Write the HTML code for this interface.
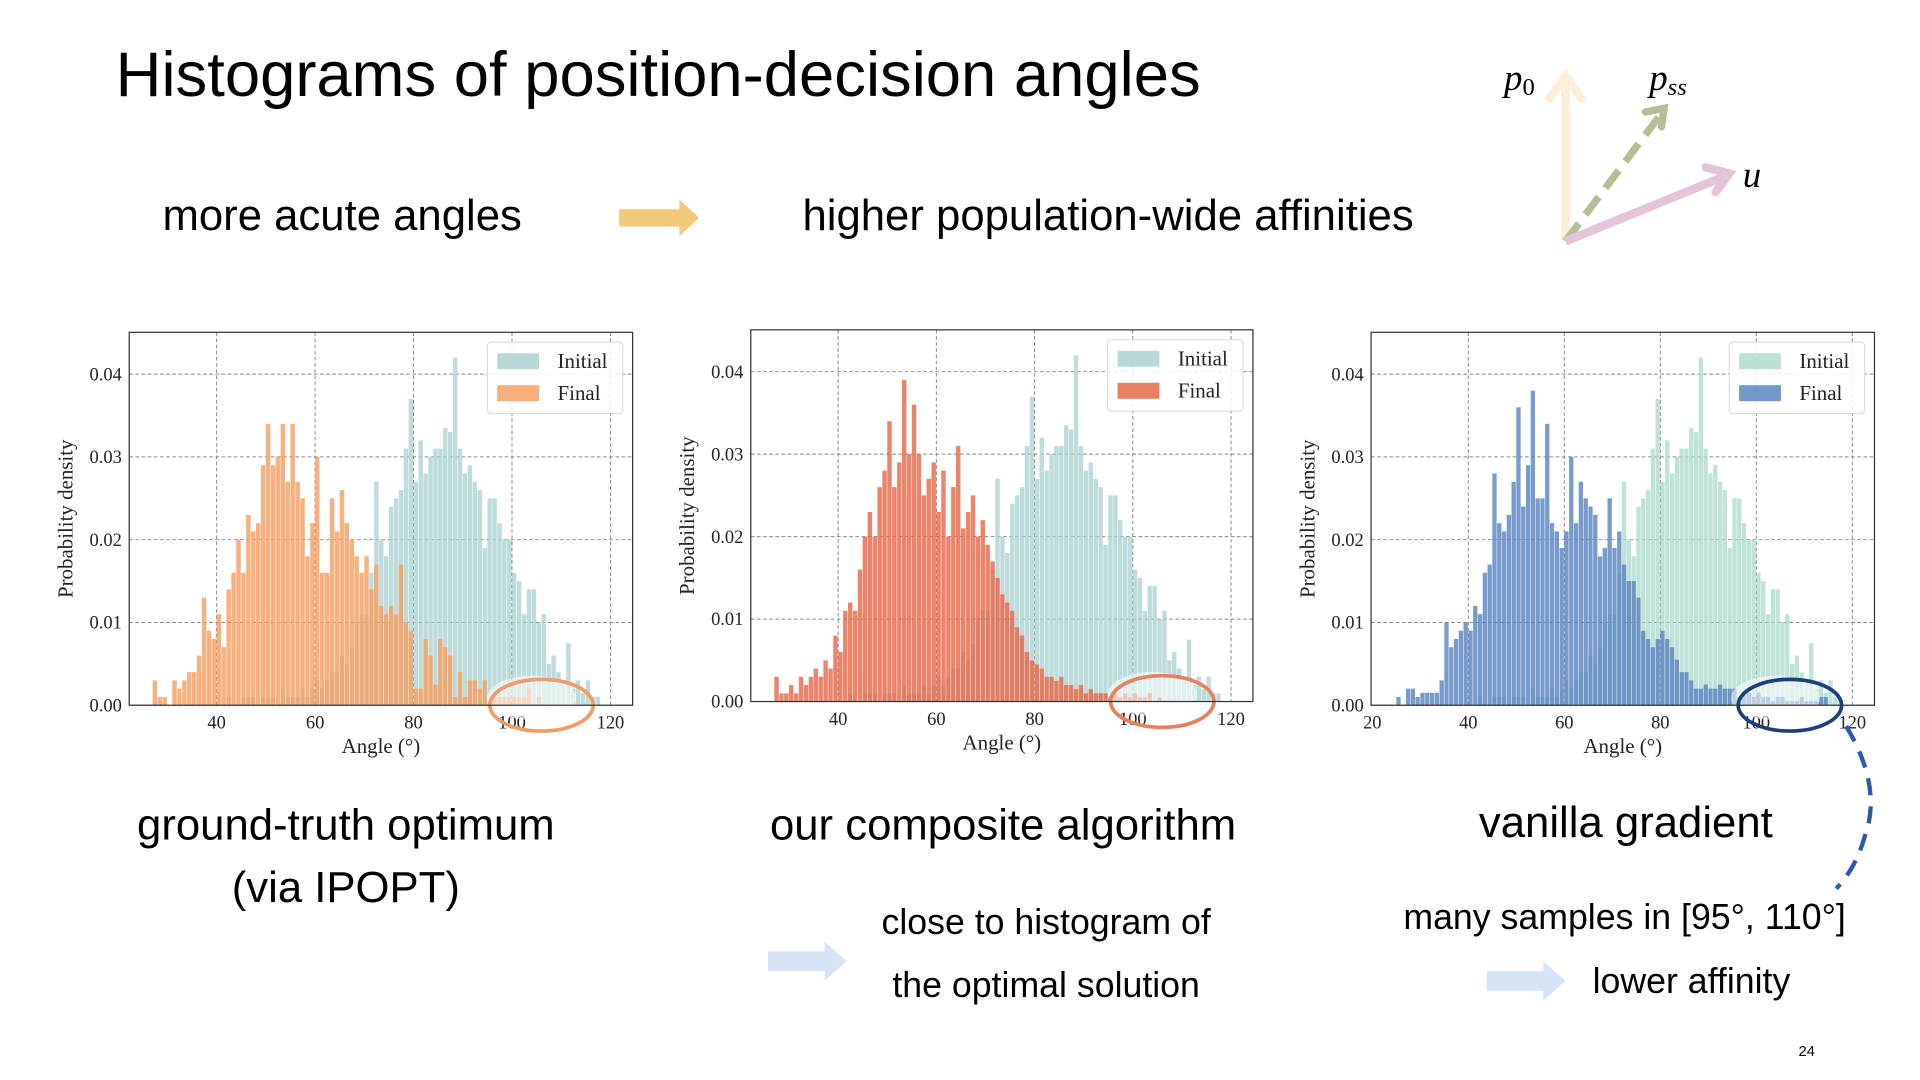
<!DOCTYPE html>
<html><head><meta charset="utf-8"><style>
html,body{margin:0;padding:0;background:#fff;width:1920px;height:1080px;overflow:hidden}
svg{display:block}
.s{font-family:"Liberation Sans",sans-serif;fill:#000}
.r{font-family:"Liberation Serif",serif;fill:#222}
</style></head><body>
<svg id="root" width="1920" height="1080" viewBox="0 0 1560 877.5" preserveAspectRatio="none">
<text class="s" x="94" y="78" font-size="51.5">Histograms of position-decision angles</text>
<text class="s" x="132" y="187" font-size="35.5">more acute angles</text>
<path d="M503 170 L552 170 L552 162 L568 177 L552 192 L552 184 L503 184 Z" fill="#f0ca7a"/>
<text class="s" x="652" y="187" font-size="35.5">higher population-wide affinities</text>
<g>
<line x1="1272" y1="196" x2="1272" y2="66" stroke="#fbeedb" stroke-width="7"/>
<path d="M1259 80 L1272 62 L1285 80" fill="none" stroke="#fbeedb" stroke-width="7" stroke-linecap="round"/>
<line x1="1272" y1="196" x2="1350" y2="92" stroke="#b6be98" stroke-width="6" stroke-dasharray="18 9"/>
<path d="M1337 91 L1352 88 L1350 103" fill="none" stroke="#b6be98" stroke-width="6" stroke-linecap="round"/>
<line x1="1272" y1="196" x2="1402" y2="143" stroke="#e2c6d8" stroke-width="7"/>
<path d="M1386 136 L1405 141 L1394 156" fill="none" stroke="#e2c6d8" stroke-width="7" stroke-linecap="round"/>
<text x="1222" y="73" font-family="Liberation Serif,serif" font-style="italic" font-size="30">p<tspan font-style="normal" font-size="20" dy="4">0</tspan></text>
<text x="1340" y="73" font-family="Liberation Serif,serif" font-style="italic" font-size="30">p<tspan font-size="20" dy="4">ss</tspan></text>
<text x="1416" y="152" font-family="Liberation Serif,serif" font-style="italic" font-size="30">u</text>
</g>
<g id="charts"></g>
<text class="s" x="281" y="682" font-size="35.5" text-anchor="middle">ground-truth optimum</text>
<text class="s" x="281" y="733" font-size="35.5" text-anchor="middle">(via IPOPT)</text>
<text class="s" x="815" y="682" font-size="35.5" text-anchor="middle">our composite algorithm</text>
<text class="s" x="1321" y="680" font-size="35.5" text-anchor="middle">vanilla gradient</text>
<path d="M624 773 L670 773 L670 765 L688 781 L670 797 L670 789 L624 789 Z" fill="#d6e4f5"/>
<text class="s" x="850" y="759" font-size="29" text-anchor="middle">close to histogram of</text>
<text class="s" x="850" y="810" font-size="29" text-anchor="middle">the optimal solution</text>
<text class="s" x="1320" y="755" font-size="29" text-anchor="middle">many samples in [95°, 110°]</text>
<path d="M1208 789 L1254 789 L1254 781 L1272 797 L1254 813 L1254 805 L1208 805 Z" fill="#d6e4f5"/>
<text class="s" x="1294" y="807" font-size="29">lower affinity</text>
<path d="M1500 590 Q1530 640 1515 680 Q1508 705 1492 722" fill="none" stroke="#2a5aa8" stroke-width="3.5" stroke-dasharray="14 9"/>
<text class="s" x="1468" y="858" font-size="12" text-anchor="middle">24</text>
</svg>
<script>
const ns="http://www.w3.org/2000/svg";
const initialStart=40;
const initialVals=[0,0,0.001,0,0,0.001,0.001,0.001,0,0.001,0.001,0.001,0,0.002,0.001,0.001,0.001,0.002,0.001,0.002,
0.003,0.002,0.003,0.004,0.004,0.006,0.005,0.007,0.010,0.011,
0.011,0.016,0.027,0.020,0.018,0.024,0.025,0.026,0.031,0.037,
0.027,0.032,0.028,0.030,0.031,0.031,0.0335,0.033,0.042,0.031,
0.028,0.029,0.027,0.026,0.019,0.025,0.025,0.022,0.020,0.020,
0.016,0.015,0.011,0.014,0.014,0.010,0.011,0.005,0.006,0.004,
0.003,0.0075,0.002,0.003,0.0015,0.003,0.001,0.001];
const optStart=27;
const optVals=[0.003,0.001,0.001,0,0.003,0.002,0.003,0.004,0.004,0.006,0.013,0.009,0.008,0.011,0.007,0.014,0.016,0.020,0.016,0.023,
0.021,0.022,0.029,0.034,0.029,0.030,0.034,0.027,0.034,0.027,0.025,0.018,0.022,0.030,0.016,0.016,0.025,0.021,0.026,0.022,
0.020,0.018,0.016,0.018,0.014,0.017,0.012,0.011,0.012,0.011,0.017,0.010,0.009,0.002,0.002,0.008,0.006,0.0025,0.008,0.007,
0.006,0.001,0.004,0.001,0.003,0.003,0.002,0.003,0,0.001,0.001,0.001,0.001,0.001,0.001,0.001,0.002,0,0.001];
const compStart=27;
const compVals=[0.003,0.001,0.001,0.002,0.001,0.003,0.002,0.003,0.004,0.003,0.005,0.004,0.008,0.006,0.011,0.012,0.011,0.016,0.020,0.023,
0.020,0.026,0.028,0.034,0.026,0.029,0.039,0.030,0.036,0.030,0.025,0.027,0.029,0.023,0.028,0.020,0.026,0.031,0.021,0.023,
0.025,0.020,0.022,0.019,0.017,0.015,0.013,0.012,0.011,0.009,0.008,0.006,0.005,0.0045,0.004,0.003,0.003,0.0025,0.003,0.002,
0.002,0.0015,0.002,0.001,0.0015,0.001,0.001,0.001,0.0005,0.001,0.0005,0.001,0.0005,0.001,0.0005,0.0005,0.001,0,0.0005];
const vanStart=25;
const vanVals=[0.001,0,0.002,0.002,0.001,0.0015,0.0015,0.0015,0.0015,0.003,0.010,0.007,0.008,0.009,0.010,0.009,0.012,0.011,0.016,0.017,
0.028,0.022,0.021,0.023,0.027,0.036,0.024,0.029,0.038,0.025,0.025,0.034,0.022,0.021,0.019,0.021,0.030,0.022,0.027,0.025,
0.024,0.023,0.018,0.019,0.025,0.019,0.021,0.017,0.015,0.015,0.013,0.009,0.008,0.007,0.008,0.009,0.008,0.007,0.0055,0.004,
0.004,0.003,0.002,0.002,0.0025,0.002,0.002,0.0025,0.002,0.002,0.002,0.001,0.0015,0.0015,0.001,0.0015,0.001,0.001,0.0005,0.001,
0.001,0.0005,0.0005,0.0005,0.001,0.0005,0.0005,0.0005,0.001,0.001];
const yTicks=[0,0.01,0.02,0.03,0.04];
const yTickLabels=["0.00","0.01","0.02","0.03","0.04"];
const xTicks1=[40,60,80,100,120];
const xTicks3=[20,40,60,80,100,120];

function mk(tag,attrs,parent){const e=document.createElementNS(ns,tag);for(const k in attrs)e.setAttribute(k,attrs[k]);parent.appendChild(e);return e;}
const charts=document.getElementById('charts');

function drawChart(cfg){
  const g=mk('g',{},charts);
  
  
  const L=cfg.L,R=cfg.R,T=cfg.T,B=cfg.B;
  const xs=v=>cfg.x0px+(v-cfg.x0)*cfg.pxPerDeg;
  const ys=v=>B-(v/0.04)*(B-cfg.y04);
  yTicks.forEach((t,i)=>{
    const ln=mk('line',{x1:L,x2:R,y1:ys(t),y2:ys(t),stroke:'#888','stroke-width':0.8,'stroke-dasharray':'3 2'},g);
    
    
    const tx=mk('text',{x:L-6,y:ys(t)+5,'font-size':15,'text-anchor':'end',class:'r'},g);
    tx.textContent=yTickLabels[i];
    
    
  });
  cfg.xTicks.forEach(t=>{
    if(t!==20){
      const ln=mk('line',{x1:xs(t),x2:xs(t),y1:T,y2:B,stroke:'#888','stroke-width':0.8,'stroke-dasharray':'3 2'},g);
      
      
    }
    const tx=mk('text',{x:xs(t),y:B+19,'font-size':15,'text-anchor':'middle',class:'r'},g);
    tx.textContent=t;
    
    
  });
  const w=cfg.pxPerDeg;
  initialVals.forEach((v,i)=>{
    if(v<=0)return;
    const r=mk('rect',{x:xs(initialStart+i),y:ys(v),width:w-0.4,height:B-ys(v),fill:cfg.initColor,opacity:0.75},g);
    
    
  });
  cfg.vals.forEach((v,i)=>{
    if(v<=0)return;
    const r=mk('rect',{x:xs(cfg.start+i),y:ys(v),width:w-0.4,height:B-ys(v),fill:cfg.color,opacity:0.82},g);
    
    
  });
  const glow=mk('ellipse',{cx:xs(104),cy:B-6,rx:36,ry:18,fill:'#fff',opacity:0.55},g);
  
  
  const c=mk('ellipse',{cx:xs(cfg.cx),cy:B,rx:cfg.rx,ry:cfg.ry,fill:'none',stroke:cfg.circle,'stroke-width':3},g);
  
  
  const fr=mk('rect',{x:L,y:T,width:R-L,height:B-T,fill:'none',stroke:'#333','stroke-width':1},g);
  
  
  const xl=mk('text',{x:(L+R)/2,y:B+39,'font-size':17,'text-anchor':'middle',class:'r'},g);
  xl.textContent='Angle (°)';
  
  
  const yl=mk('text',{x:0,y:0,'font-size':17,'text-anchor':'middle',class:'r',transform:`translate(${L-46},${(T+B)/2}) rotate(-90)`},g);
  yl.textContent='Probability density';
  
  
  const lg=mk('g',{},g);
  
  
  mk('rect',{x:R-118,y:T+8,width:110,height:58,rx:3,fill:'#fff','fill-opacity':0.85,stroke:'#ddd'},lg);
  const l1=mk('rect',{x:R-110,y:T+17,width:34,height:13,fill:cfg.initColor,opacity:0.8},lg);
  
  
  const t1=mk('text',{x:R-61,y:T+29,'font-size':17,class:'r'},lg);t1.textContent='Initial';
  
  
  const l2=mk('rect',{x:R-110,y:T+43,width:34,height:13,fill:cfg.color,opacity:0.85},lg);
  
  
  const t2=mk('text',{x:R-61,y:T+55,'font-size':17,class:'r'},lg);t2.textContent='Final';
  
  
}
drawChart({name:'histogram-ground-truth',L:105,R:514,T:270,B:573,y04:304,x0:40,x0px:176,pxPerDeg:4,xTicks:xTicks1,start:optStart,vals:optVals,color:'#f4a063',initColor:'#a8d0d0',circle:'#ee9c68',cx:106,rx:42,ry:21});
drawChart({name:'histogram-composite',L:610,R:1018,T:268,B:570,y04:302,x0:40,x0px:681,pxPerDeg:3.99,xTicks:xTicks1,start:compStart,vals:compVals,color:'#e8694a',initColor:'#a8d0d0',circle:'#e8805f',cx:106,rx:42,ry:21});
drawChart({name:'histogram-vanilla',L:1114,R:1523,T:270,B:573,y04:304,x0:20,x0px:1115,pxPerDeg:3.9,xTicks:xTicks3,start:vanStart,vals:vanVals,color:'#5a85bf',initColor:'#aad8cc',circle:'#1d3f7a',cx:107,rx:42,ry:21});
</script>
</body></html>
